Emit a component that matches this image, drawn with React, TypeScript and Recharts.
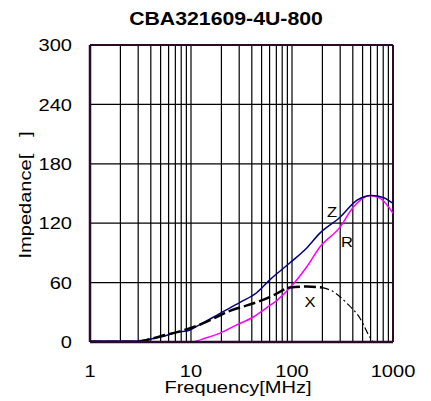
import { CartesianGrid, Line, LineChart, ReferenceLine, XAxis, YAxis } from 'recharts'

// grid / tick values
const freqTicks = [
  1, 2, 3, 4, 5, 6, 7, 8, 9,
  10, 20, 30, 40, 50, 60, 70, 80, 90,
  100, 200, 300, 400, 500, 600, 700, 800, 900, 1000,
]
const decadeTicks = [1, 10, 100, 1000]
const impTicks = [0, 60, 120, 180, 240, 300]

// Z (impedance)
const zFreq = [1, 2, 2.9, 4, 5.5, 7.3, 9.1, 12, 19.4, 30.6, 45, 60.6, 95.5, 140, 189, 299, 437, 617, 800, 1000]
const zVal = [1, 1, 1, 3, 6, 10, 11, 17, 29, 40, 50, 63, 80, 95, 110, 126, 143, 148, 146, 140]

// R (resistance)
const rFreq = [1, 5, 9.8, 14, 19.4, 28, 41, 55, 71, 100, 140, 189, 299, 403, 590, 750, 1000]
const rVal = [0, 0, 0, 4, 9, 17, 25, 34, 42, 57, 76, 96, 116, 136, 148, 145, 130]

// X (reactance) - thick dashed part and thin dash-dot tail
const xFreq = [1, 2.9, 4, 5.5, 7.3, 9.8, 14, 19.4, 25, 35.8, 50, 65, 95, 141, 200]
const xVal = [0, 0, 3, 7, 10, 14, 20, 27, 32, 37, 42, 47, 55, 56, 55]
const xTailFreq = [200, 255, 350, 471, 590, 640]
const xTailVal = [55, 51, 39, 24, 5, 0]

const toRows = (f: number[], v: number[]) => f.map((x, i) => ({ f: x, v: v[i] }))

const font = '"Liberation Sans", Arial, sans-serif'
const frame = '#2a0a2a'
const stretch = 1.18

const XTick = ({ x, y, payload }: any) => {
  if (!decadeTicks.includes(payload.value)) return null
  return (
    <g transform={`translate(${x},${y})`}>
      <text
        textAnchor="middle"
        dy="0.71em"
        fontSize={17}
        fontFamily={font}
        fill="#000"
        transform={`scale(${stretch},1)`}
      >
        {payload.value}
      </text>
    </g>
  )
}

const YTick = ({ x, y, payload }: any) => (
  <g transform={`translate(${x},${y})`}>
    <text
      textAnchor="end"
      dy="0.36em"
      fontSize={17}
      fontFamily={font}
      fill="#000"
      transform={`scale(${stretch},1)`}
    >
      {payload.value}
    </text>
  </g>
)

const lbl = (left: number, top: number, size: number, extra: any = {}) => ({
  position: 'absolute' as const,
  left,
  top,
  transform: `translate(-50%, -50%) scale(${stretch}, 1)`,
  fontFamily: font,
  fontSize: size,
  color: '#000',
  whiteSpace: 'pre' as const,
  lineHeight: 1,
  ...extra,
})

export default function App() {
  return (
    <div style={{ position: 'relative', width: 423, height: 393, background: '#fff' }}>
      <LineChart
        width={423}
        height={393}
        margin={{ top: 37, right: 38, bottom: 19, left: 32 }}
      >
        <CartesianGrid stroke="#000" strokeWidth={1.2} />
        <XAxis
          dataKey="f"
          type="number"
          scale="log"
          domain={[1, 1000]}
          ticks={freqTicks}
          interval={0}
          allowDataOverflow
          tick={<XTick />}
          tickLine={false}
          tickMargin={17}
          height={40}
          axisLine={{ stroke: frame, strokeWidth: 2.5 }}
        />
        <YAxis
          type="number"
          domain={[0, 300]}
          ticks={impTicks}
          interval={0}
          allowDataOverflow
          tick={<YTick />}
          tickLine={false}
          tickMargin={12}
          width={50}
          axisLine={{ stroke: frame, strokeWidth: 2.5 }}
        />
        <ReferenceLine y={300} stroke={frame} strokeWidth={2} />
        <ReferenceLine x={1000} stroke={frame} strokeWidth={2} />
        <Line
          data={toRows(rFreq, rVal)}
          dataKey="v"
          stroke="#ff00ff"
          strokeWidth={1.5}
          dot={false}
          type="monotone"
          isAnimationActive={false}
        />
        <Line
          data={toRows(zFreq, zVal)}
          dataKey="v"
          stroke="#000080"
          strokeWidth={1.5}
          dot={false}
          type="monotone"
          isAnimationActive={false}
        />
        <Line
          data={toRows(xFreq, xVal)}
          dataKey="v"
          stroke="#000"
          strokeWidth={2.5}
          strokeDasharray="12 4"
          dot={false}
          type="monotone"
          isAnimationActive={false}
        />
        <Line
          data={toRows(xTailFreq, xTailVal)}
          dataKey="v"
          stroke="#000"
          strokeWidth={1.2}
          strokeDasharray="7 3 2 3"
          dot={false}
          type="monotone"
          isAnimationActive={false}
        />
      </LineChart>

      <div style={lbl(218, 11, 18, { fontWeight: 'bold' })}>CBA321609-4U-800</div>
      <div style={lbl(230, 379, 17)}>Frequency[MHz]</div>
      <div style={lbl(17, 187, 17, { transform: `translate(-50%, -50%) rotate(-90deg) scale(${stretch}, 1)` })}>
        {'Impedance[   ]'}
      </div>
      <div style={lbl(324, 204, 14)}>Z</div>
      <div style={lbl(339, 234, 14)}>R</div>
      <div style={lbl(302, 294, 14)}>X</div>
    </div>
  )
}
